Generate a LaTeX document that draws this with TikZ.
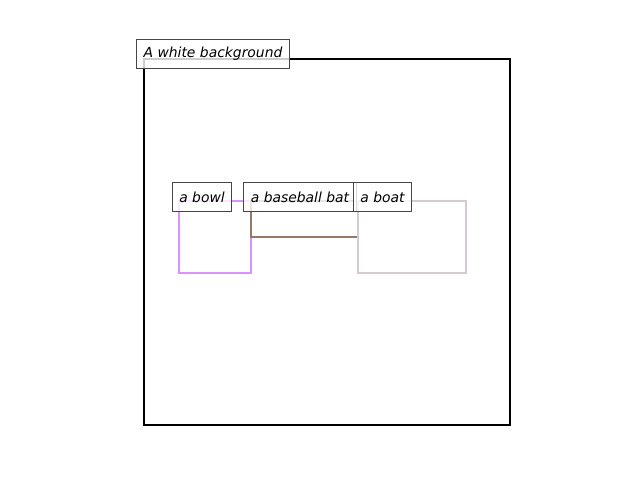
\documentclass[tikz,border=0pt]{standalone}
\usepackage{fontspec}
\setmainfont{DejaVu Sans}
\usepackage{xcolor}
\definecolor{bowlc}{RGB}{220,145,252}
\definecolor{batc}{RGB}{150,120,105}
\definecolor{boatc}{RGB}{212,202,210}
\definecolor{tagc}{RGB}{70,70,70}
\tikzset{
    tag/.style={draw=tagc,line width=0.7pt,fill=white,fill opacity=.8,text opacity=1,
        inner xsep=5pt,minimum height=20.2pt,font=\itshape\fontsize{10}{12}\selectfont},
    region/.style={line width=1.5pt}
}
\begin{document}
\begin{tikzpicture}[x=0.72pt,y=-0.72pt]
    \useasboundingbox (0,0) rectangle (640,480);
    % frame
    \draw[line width=1.5pt] (144,59) rectangle (510,425);
    % regions
    \draw[region,bowlc] (179,201) rectangle (251,273);
    \draw[region,batc]  (251,201) rectangle (358,237);
    \draw[region,boatc] (358,201) rectangle (466,273);
    % labels
    \node[tag] (bg)   at (213,54)    {A white background};
    \node[tag] (bowl) at (202,197)   {a bowl};
    \node[tag] (bat)  at (300,197)   {a baseball bat};
    \node[tag] (boat) at (382.5,197) {a boat};
\end{tikzpicture}
\end{document}
